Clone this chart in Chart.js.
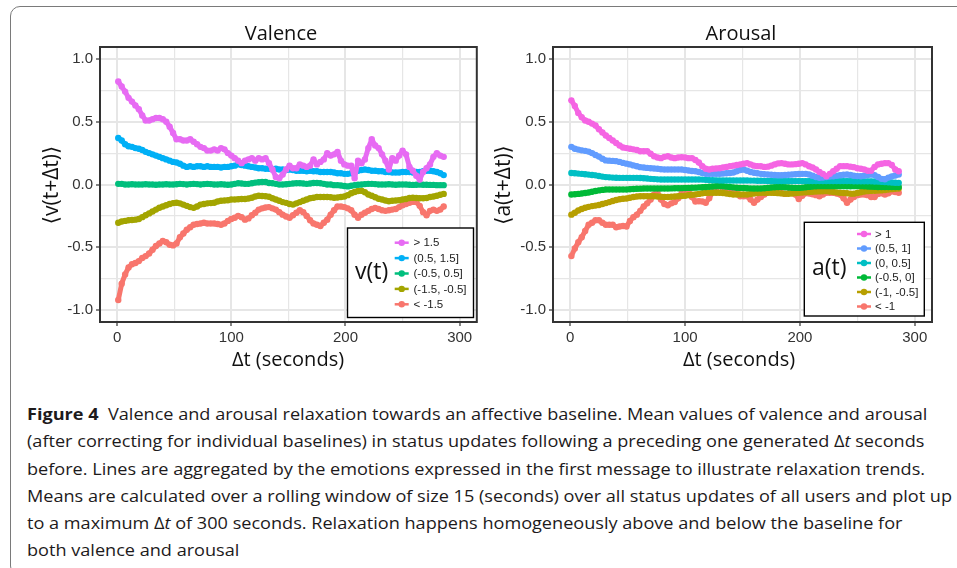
<!DOCTYPE html>
<html><head><meta charset="utf-8">
<script src="https://cdn.jsdelivr.net/npm/chart.js@4.4.1/dist/chart.umd.min.js"></script>
<style>
html,body{margin:0;padding:0;background:#fff;width:957px;height:568px;overflow:hidden;position:relative;}
#frame{position:absolute;left:10px;top:6px;width:1000px;height:570px;border:1.3px solid #7a7a7a;border-radius:10px;box-sizing:border-box;}
canvas{position:absolute;top:0;}
#cv1{left:0;}
#cv2{left:480px;}
#cap{position:absolute;left:26.5px;top:400px;font-family:"Open Sans",sans-serif;font-size:16.5px;line-height:27.3px;color:#1d1a1b;transform-origin:0 0;white-space:nowrap;}
#cap b{font-weight:700;}
</style></head><body>
<div id="frame"></div>
<canvas id="cv1" width="480" height="380"></canvas>
<canvas id="cv2" width="477" height="380"></canvas>
<div id="cap">
<div><b>Figure 4</b>&nbsp; Valence and arousal relaxation towards an affective baseline. Mean values of valence and arousal</div>
<div>(after correcting for individual baselines) in status updates following a preceding one generated Δ<i>t</i> seconds</div>
<div>before. Lines are aggregated by the emotions expressed in the first message to illustrate relaxation trends.</div>
<div id="l4">Means are calculated over a rolling window of size 15 (seconds) over all status updates of all users and plot up</div>
<div>to a maximum Δ<i>t</i> of 300 seconds. Relaxation happens homogeneously above and below the baseline for</div>
<div>both valence and arousal</div>
</div>
<script>
// Δt grid (seconds)
const dt = [1,4,7,10,13,16,19,22,25,28,31,34,37,40,43,46,49,52,55,58,61,64,67,70,73,76,79,82,85,88,91,94,97,100,103,106,109,112,115,118,121,124,127,130,133,136,139,142,145,148,151,154,157,160,163,166,169,172,175,178,181,184,187,190,193,196,199,202,205,208,211,214,217,220,223,226,229,232,235,238,241,244,247,250,253,256,259,262,265,268,271,274,277,280,283,286];

// Valence series
const valGt15 = [0.82,0.78,0.74,0.69,0.66,0.63,0.60,0.55,0.51,0.51,0.52,0.53,0.53,0.52,0.50,0.46,0.41,0.36,0.36,0.35,0.35,0.36,0.34,0.32,0.30,0.29,0.27,0.27,0.28,0.27,0.29,0.28,0.25,0.23,0.21,0.19,0.17,0.19,0.20,0.21,0.19,0.21,0.20,0.21,0.17,0.12,0.06,0.05,0.08,0.12,0.15,0.13,0.13,0.16,0.15,0.14,0.15,0.20,0.16,0.18,0.20,0.25,0.23,0.24,0.26,0.19,0.16,0.15,0.15,0.05,0.19,0.17,0.20,0.29,0.36,0.31,0.29,0.24,0.19,0.12,0.21,0.19,0.23,0.27,0.24,0.14,0.11,0.07,0.04,0.10,0.13,0.16,0.22,0.25,0.23,0.22];
const val05to15 = [0.37,0.35,0.32,0.305,0.30,0.29,0.285,0.275,0.26,0.25,0.24,0.23,0.22,0.21,0.20,0.19,0.18,0.175,0.165,0.15,0.14,0.145,0.14,0.145,0.145,0.14,0.145,0.14,0.14,0.14,0.135,0.14,0.14,0.145,0.15,0.16,0.155,0.15,0.145,0.14,0.135,0.13,0.13,0.125,0.125,0.12,0.125,0.12,0.12,0.115,0.12,0.115,0.11,0.11,0.11,0.105,0.11,0.105,0.105,0.10,0.10,0.10,0.10,0.095,0.09,0.09,0.085,0.085,0.09,0.10,0.11,0.115,0.12,0.115,0.11,0.11,0.105,0.105,0.10,0.10,0.095,0.095,0.095,0.10,0.10,0.10,0.095,0.10,0.10,0.105,0.11,0.11,0.105,0.10,0.09,0.075];
const valM05to05 = [0.005,0.005,0.0,0.0,0.002,0.0,0.0,0.0,0.002,0.0,0.0,-0.002,0.0,0.0,0.002,0.0,0.0,0.002,0.005,0.003,0.0,0.003,0.005,0.003,0.0,0.003,0.005,0.003,0.0,0.0,0.002,0.0,-0.002,0.0,0.005,0.01,0.008,0.005,0.005,0.01,0.015,0.018,0.02,0.02,0.012,0.01,0.005,0.0,0.0,0.002,0.005,0.008,0.01,0.01,0.008,0.005,0.008,0.012,0.012,0.01,0.005,0.0,0.0,-0.005,-0.005,-0.008,-0.012,-0.015,-0.01,-0.005,-0.002,0.0,0.003,0.005,0.005,0.003,0.0,0.0,0.0,0.002,0.0,-0.002,0.0,0.0,0.0,-0.002,-0.003,-0.002,0.0,-0.002,-0.002,-0.003,-0.003,-0.005,-0.005,-0.005];
const valM15toM05 = [-0.305,-0.295,-0.29,-0.285,-0.283,-0.28,-0.275,-0.26,-0.245,-0.23,-0.215,-0.2,-0.185,-0.175,-0.165,-0.155,-0.148,-0.145,-0.15,-0.16,-0.17,-0.18,-0.186,-0.175,-0.16,-0.155,-0.15,-0.148,-0.145,-0.135,-0.13,-0.127,-0.125,-0.12,-0.12,-0.118,-0.115,-0.115,-0.112,-0.105,-0.095,-0.09,-0.092,-0.093,-0.098,-0.11,-0.12,-0.13,-0.14,-0.146,-0.155,-0.16,-0.15,-0.14,-0.13,-0.12,-0.11,-0.105,-0.1,-0.1,-0.1,-0.1,-0.102,-0.105,-0.104,-0.1,-0.095,-0.085,-0.07,-0.06,-0.052,-0.05,-0.062,-0.08,-0.09,-0.102,-0.114,-0.12,-0.128,-0.133,-0.13,-0.128,-0.126,-0.12,-0.115,-0.108,-0.106,-0.108,-0.11,-0.11,-0.108,-0.1,-0.095,-0.09,-0.082,-0.075];
const valLtM15 = [-0.92,-0.79,-0.716,-0.66,-0.635,-0.625,-0.61,-0.585,-0.57,-0.55,-0.52,-0.49,-0.47,-0.45,-0.46,-0.48,-0.485,-0.47,-0.42,-0.39,-0.36,-0.34,-0.32,-0.315,-0.31,-0.305,-0.31,-0.31,-0.31,-0.315,-0.32,-0.31,-0.29,-0.275,-0.265,-0.25,-0.26,-0.28,-0.27,-0.245,-0.225,-0.2,-0.19,-0.183,-0.18,-0.19,-0.2,-0.22,-0.24,-0.255,-0.265,-0.245,-0.225,-0.205,-0.22,-0.25,-0.285,-0.31,-0.32,-0.33,-0.305,-0.28,-0.24,-0.205,-0.175,-0.175,-0.18,-0.19,-0.205,-0.24,-0.265,-0.24,-0.225,-0.21,-0.195,-0.186,-0.195,-0.205,-0.21,-0.205,-0.2,-0.195,-0.18,-0.165,-0.155,-0.145,-0.138,-0.14,-0.17,-0.22,-0.245,-0.21,-0.2,-0.21,-0.2,-0.175];

// Arousal series
const aroGt1 = [0.67,0.625,0.57,0.535,0.51,0.50,0.485,0.47,0.44,0.415,0.39,0.37,0.35,0.33,0.31,0.295,0.29,0.285,0.28,0.275,0.265,0.265,0.265,0.245,0.225,0.215,0.21,0.22,0.225,0.215,0.21,0.215,0.217,0.215,0.21,0.21,0.195,0.175,0.145,0.125,0.12,0.125,0.128,0.13,0.135,0.14,0.146,0.15,0.155,0.16,0.165,0.17,0.16,0.15,0.146,0.145,0.14,0.142,0.15,0.16,0.168,0.17,0.165,0.16,0.16,0.162,0.165,0.17,0.16,0.145,0.135,0.12,0.1,0.085,0.066,0.085,0.106,0.125,0.146,0.146,0.146,0.142,0.138,0.13,0.125,0.12,0.11,0.11,0.14,0.16,0.165,0.17,0.17,0.155,0.12,0.106];
const aro05to1 = [0.30,0.285,0.278,0.272,0.268,0.262,0.25,0.235,0.222,0.205,0.192,0.19,0.188,0.186,0.18,0.172,0.166,0.16,0.152,0.145,0.138,0.135,0.132,0.13,0.127,0.125,0.122,0.12,0.12,0.12,0.12,0.12,0.12,0.115,0.112,0.108,0.105,0.1,0.092,0.086,0.085,0.085,0.085,0.085,0.087,0.09,0.092,0.095,0.105,0.115,0.12,0.11,0.1,0.093,0.09,0.085,0.082,0.08,0.078,0.076,0.074,0.074,0.076,0.078,0.08,0.082,0.084,0.085,0.085,0.08,0.07,0.06,0.053,0.055,0.06,0.063,0.066,0.07,0.074,0.078,0.08,0.076,0.07,0.067,0.066,0.07,0.075,0.08,0.075,0.06,0.045,0.042,0.055,0.065,0.072,0.08];
const aro0to05 = [0.092,0.09,0.087,0.085,0.082,0.079,0.076,0.073,0.068,0.063,0.059,0.057,0.055,0.054,0.053,0.053,0.053,0.053,0.053,0.053,0.052,0.05,0.048,0.045,0.043,0.041,0.04,0.04,0.04,0.04,0.04,0.04,0.04,0.04,0.04,0.04,0.04,0.04,0.039,0.037,0.035,0.034,0.033,0.032,0.032,0.032,0.032,0.032,0.032,0.032,0.032,0.032,0.031,0.031,0.03,0.03,0.029,0.028,0.028,0.027,0.027,0.027,0.027,0.027,0.027,0.027,0.027,0.027,0.027,0.027,0.027,0.027,0.027,0.027,0.027,0.027,0.027,0.027,0.027,0.027,0.027,0.027,0.026,0.026,0.025,0.025,0.025,0.025,0.024,0.024,0.022,0.02,0.018,0.016,0.014,0.013];
const aroM05to0 = [-0.08,-0.078,-0.075,-0.072,-0.068,-0.064,-0.058,-0.052,-0.047,-0.043,-0.04,-0.04,-0.04,-0.04,-0.04,-0.04,-0.04,-0.038,-0.036,-0.034,-0.033,-0.032,-0.032,-0.032,-0.032,-0.032,-0.032,-0.032,-0.032,-0.031,-0.03,-0.03,-0.029,-0.028,-0.027,-0.026,-0.025,-0.023,-0.022,-0.02,-0.018,-0.016,-0.014,-0.013,-0.014,-0.017,-0.02,-0.023,-0.026,-0.027,-0.028,-0.03,-0.031,-0.032,-0.032,-0.032,-0.03,-0.027,-0.024,-0.022,-0.02,-0.02,-0.022,-0.024,-0.026,-0.027,-0.027,-0.025,-0.022,-0.019,-0.016,-0.014,-0.013,-0.013,-0.013,-0.013,-0.013,-0.013,-0.013,-0.013,-0.014,-0.014,-0.013,-0.013,-0.013,-0.014,-0.016,-0.017,-0.018,-0.02,-0.02,-0.02,-0.02,-0.02,-0.02,-0.02];
const aroM1toM05 = [-0.24,-0.225,-0.207,-0.195,-0.185,-0.178,-0.172,-0.168,-0.163,-0.155,-0.148,-0.14,-0.131,-0.123,-0.118,-0.114,-0.111,-0.106,-0.1,-0.096,-0.093,-0.093,-0.093,-0.093,-0.093,-0.095,-0.097,-0.099,-0.1,-0.098,-0.096,-0.094,-0.092,-0.089,-0.085,-0.082,-0.079,-0.075,-0.07,-0.067,-0.066,-0.066,-0.066,-0.066,-0.068,-0.072,-0.076,-0.08,-0.08,-0.08,-0.08,-0.08,-0.076,-0.072,-0.068,-0.066,-0.066,-0.066,-0.066,-0.067,-0.069,-0.071,-0.073,-0.074,-0.072,-0.069,-0.066,-0.064,-0.062,-0.06,-0.058,-0.056,-0.055,-0.054,-0.053,-0.056,-0.06,-0.063,-0.066,-0.068,-0.07,-0.073,-0.073,-0.068,-0.062,-0.056,-0.053,-0.051,-0.05,-0.048,-0.047,-0.044,-0.04,-0.037,-0.034,-0.032];
const aroLtM1 = [-0.57,-0.51,-0.46,-0.42,-0.37,-0.32,-0.305,-0.285,-0.285,-0.305,-0.32,-0.32,-0.32,-0.34,-0.335,-0.33,-0.335,-0.29,-0.26,-0.24,-0.21,-0.175,-0.15,-0.12,-0.08,-0.07,-0.12,-0.155,-0.165,-0.15,-0.14,-0.11,-0.07,-0.03,-0.06,-0.1,-0.135,-0.133,-0.135,-0.146,-0.11,-0.06,-0.03,-0.005,-0.03,-0.053,-0.045,-0.04,-0.065,-0.093,-0.093,-0.093,-0.12,-0.146,-0.12,-0.1,-0.08,-0.062,-0.055,-0.055,-0.062,-0.068,-0.075,-0.07,-0.055,-0.08,-0.115,-0.09,-0.07,-0.072,-0.078,-0.085,-0.093,-0.08,-0.066,-0.066,-0.066,-0.072,-0.08,-0.11,-0.146,-0.12,-0.1,-0.085,-0.08,-0.08,-0.085,-0.1,-0.1,-0.075,-0.07,-0.08,-0.07,-0.055,-0.06,-0.066];

// Labels / ticks
const xTicks = [0,50,100,150,200,250,300];
const yTicks = [-1,-0.75,-0.5,-0.25,0,0.25,0.5,0.75,1];
const valLabels = ["> 1.5","(0.5, 1.5]","(-0.5, 0.5]","(-1.5, -0.5]","< -1.5"];
const valColors = ["#E76BF3","#00B0F6","#00BF7D","#A3A500","#F8766D"];
const aroLabels = ["> 1","(0.5, 1]","(0, 0.5]","(-0.5, 0]","(-1, -0.5]","< -1"];
const aroColors = ["#F564E3","#619CFF","#00BFC4","#00BA38","#B79F00","#F8766D"];

function mk(vals){ return dt.map((t,i)=>({x:t,y:vals[i]})); }

function makePanel(id, series, labels, colors, cfg){
  const datasets = series.map((s,i)=>({
    label: labels[i], data: mk(s), borderColor: colors[i], backgroundColor: colors[i],
    borderWidth: 5, pointRadius: 3.2, pointBorderWidth: 0, pointHoverRadius: 0,
    borderJoinStyle:'round', borderCapStyle:'round', tension: 0
  }));
  const isMajorX = v => v % 100 === 0;
  const isMajorY = v => Math.abs(v*2 - Math.round(v*2)) < 1e-9;
  const tickFont = {family:'"Liberation Sans", Arial, sans-serif', size:15};
  const deco = {
    id:'deco',
    afterDraw(chart){
      const c = chart.ctx, a = chart.chartArea;
      c.save();
      c.strokeStyle = '#333'; c.lineWidth = 2;
      c.strokeRect(a.left, a.top, a.right-a.left, a.bottom-a.top);
      c.fillStyle = '#111'; c.textAlign='center'; c.textBaseline='alphabetic';
      c.font = '20px "Open Sans", sans-serif';
      c.fillText(cfg.title, cfg.titleX, 40);
      c.fillText('Δt (seconds)', cfg.xTitleX, 366);
      c.save();
      c.translate(cfg.yTitleX, 185);
      c.rotate(-Math.PI/2);
      c.textBaseline='middle';
      c.font = '21px "Open Sans", "DejaVu Sans", sans-serif';
      c.fillText(cfg.yTitle, 0, 0);
      c.restore();
      // legend
      const L = cfg.legend;
      c.fillStyle = '#fff';
      c.fillRect(L.x, L.y, L.w, L.h);
      c.strokeStyle = '#000'; c.lineWidth = 1.4;
      c.strokeRect(L.x, L.y, L.w, L.h);
      c.fillStyle = '#111'; c.textAlign='left'; c.textBaseline='middle';
      c.font = '23px "Open Sans", sans-serif';
      c.fillText(cfg.legendTitle, L.tx, L.ty);
      c.font = '11.5px "Liberation Sans", Arial, sans-serif';
      labels.forEach((lb,i)=>{
        const y = L.ey0 + i*L.dy;
        c.strokeStyle = colors[i]; c.lineWidth = 2.5;
        c.beginPath(); c.moveTo(L.kx-7, y); c.lineTo(L.kx+7, y); c.stroke();
        c.fillStyle = colors[i];
        c.beginPath(); c.arc(L.kx, y, 3.2, 0, Math.PI*2); c.fill();
        c.fillStyle = '#222';
        c.fillText(lb, L.lx, y+0.5);
      });
      c.restore();
    }
  };
  return new Chart(document.getElementById(id), {
    type:'line',
    data:{datasets},
    options:{
      responsive:false, animation:false, devicePixelRatio:1, events:[],
      layout:{padding:{top:47, right:cfg.padRight, left:0, bottom:0}},
      plugins:{legend:{display:false}, tooltip:{enabled:false}, title:{display:false}},
      scales:{
        x:{type:'linear', min:-15, max:315,
          afterBuildTicks: s => { s.ticks = xTicks.map(v=>({value:v})); },
          afterFit: s => { s.height = 58; },
          ticks:{autoSkip:false, maxRotation:0, padding:3, color:'#333', font:tickFont,
            callback: v => isMajorX(v) ? String(v) : ''},
          grid:{color:'#E6E6E6', lineWidth: ctx => isMajorX(ctx.tick.value) ? 2 : 1.2,
            tickLength:4, tickWidth:1.2,
            tickColor: ctx => isMajorX(ctx.tick.value) ? '#333' : 'rgba(0,0,0,0)'},
          border:{display:false}
        },
        y:{type:'linear', min:-1.095, max:1.095,
          afterBuildTicks: s => { s.ticks = yTicks.map(v=>({value:v})); },
          afterFit: s => { s.width = cfg.yWidth; },
          ticks:{autoSkip:false, padding:3, color:'#333', font:tickFont,
            callback: v => isMajorY(v) ? v.toFixed(1) : ''},
          grid:{color:'#E6E6E6', lineWidth: ctx => isMajorY(ctx.tick.value) ? 2 : 1.2,
            tickLength:4, tickWidth:1.2,
            tickColor: ctx => isMajorY(ctx.tick.value) ? '#333' : 'rgba(0,0,0,0)'},
          border:{display:false}
        }
      }
    },
    plugins:[deco]
  });
}

makePanel('cv1', [valGt15, val05to15, valM05to05, valM15toM05, valLtM15], valLabels, valColors, {
  title:'Valence', titleX:281, xTitleX:288, yTitleX:52, yTitle:'⟨v(t+Δt)⟩',
  yWidth:100, padRight:2, legendTitle:'v(t)',
  legend:{x:347.5, y:228, w:126, h:89.5, tx:355, ty:272, kx:401.7, lx:413.5, ey0:242.7, dy:15.4}
});
makePanel('cv2', [aroGt1, aro05to1, aro0to05, aroM05to0, aroM1toM05, aroLtM1], aroLabels, aroColors, {
  title:'Arousal', titleX:261, xTitleX:259, yTitleX:24, yTitle:'⟨a(t+Δt)⟩',
  yWidth:73, padRight:25, legendTitle:'a(t)',
  legend:{x:324.3, y:222.3, w:120, h:93.7, tx:332, ty:268, kx:384, lx:395, ey0:234, dy:14.5}
});

// fit caption width
(document.fonts ? document.fonts.ready : Promise.resolve()).then(()=>{
  const cap = document.getElementById('cap');
  const l4 = document.getElementById('l4');
  const w = l4.getBoundingClientRect().width;
  const s = 925 / w;
  cap.style.transform = 'scaleX(' + s + ')';
});
</script>
</body></html>
